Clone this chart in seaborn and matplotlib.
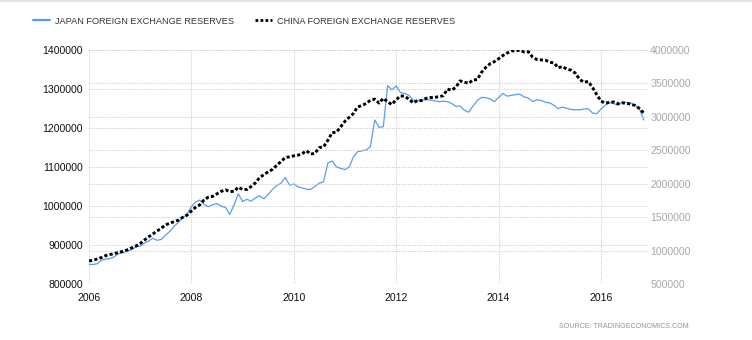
import matplotlib
matplotlib.use("Agg")
import matplotlib.pyplot as plt
from matplotlib.lines import Line2D
import pandas as pd
import seaborn as sns

# ---------------- data (monthly, Jan 2006 - Nov 2016, USD million) ----------------
japan = [
    850000, 850000, 852000, 861000, 864000, 865000, 870000, 878000, 880000, 884000, 888000, 895000,
    897000, 905000, 910000, 917000, 912000, 914000, 925000, 935000, 948000, 958000, 970000, 978000,
    998000, 1010000, 1015000, 1004000, 998000, 1003000, 1006000, 999000, 996000, 978000, 1003000, 1031000,
    1011000, 1017000, 1012000, 1020000, 1026000, 1018000, 1029000, 1042000, 1052000, 1058000, 1073000, 1053000,
    1056000, 1049000, 1046000, 1043000, 1042000, 1050000, 1058000, 1062000, 1110000, 1115000, 1100000, 1096000,
    1093000, 1100000, 1125000, 1139000, 1141000, 1143000, 1152000, 1220000, 1201000, 1203000, 1308000, 1297000,
    1307000, 1290000, 1288000, 1283000, 1271000, 1270000, 1272000, 1272000, 1271000, 1269000, 1267000, 1268000,
    1267000, 1262000, 1255000, 1256000, 1245000, 1240000, 1255000, 1270000, 1278000, 1277000, 1274000, 1267000,
    1278000, 1288000, 1281000, 1283000, 1285000, 1286000, 1279000, 1276000, 1267000, 1272000, 1270000, 1265000,
    1264000, 1257000, 1249000, 1253000, 1250000, 1247000, 1246000, 1246000, 1248000, 1249000, 1238000, 1236000,
    1248000, 1258000, 1265000, 1262000, 1258000, 1266000, 1265000, 1263000, 1257000, 1248000, 1220000,
]
china = [
    845000, 854000, 875000, 895000, 925000, 941000, 954000, 972000, 988000, 1010000, 1039000, 1066000,
    1105000, 1158000, 1202000, 1246000, 1292000, 1333000, 1385000, 1409000, 1434000, 1455000, 1497000, 1528000,
    1590000, 1647000, 1682000, 1757000, 1797000, 1809000, 1845000, 1884000, 1906000, 1880000, 1885000, 1946000,
    1913000, 1912000, 1954000, 2009000, 2089000, 2132000, 2175000, 2211000, 2273000, 2328000, 2389000, 2399000,
    2415000, 2425000, 2447000, 2491000, 2440000, 2454000, 2538000, 2548000, 2648000, 2760000, 2768000, 2847000,
    2932000, 2991000, 3045000, 3145000, 3166000, 3197000, 3245000, 3262000, 3202000, 3274000, 3221000, 3181000,
    3254000, 3310000, 3305000, 3260000, 3206000, 3240000, 3240000, 3273000, 3285000, 3287000, 3298000, 3312000,
    3410000, 3395000, 3440000, 3534000, 3515000, 3497000, 3548000, 3553000, 3663000, 3736000, 3790000, 3821000,
    3866000, 3914000, 3948000, 3981000, 3984000, 3993000, 3966000, 3969000, 3887000, 3853000, 3847000, 3843000,
    3813000, 3801000, 3730000, 3748000, 3711000, 3694000, 3651000, 3557000, 3514000, 3526000, 3438000, 3330000,
    3231000, 3202000, 3213000, 3220000, 3192000, 3205000, 3201000, 3185000, 3166000, 3121000, 3052000,
]
dates = pd.date_range("2006-01-01", periods=len(japan), freq="MS")

left_ticks = [800000, 900000, 1000000, 1100000, 1200000, 1300000, 1400000]
right_ticks = [500000, 1000000, 1500000, 2000000, 2500000, 3000000, 3500000, 4000000]
year_ticks = ["2006", "2008", "2010", "2012", "2014", "2016"]

japan_label = "JAPAN FOREIGN EXCHANGE RESERVES"
china_label = "CHINA FOREIGN EXCHANGE RESERVES"
source_text = "SOURCE: TRADINGECONOMICS.COM"

df = pd.DataFrame({"date": dates, "japan": japan, "china": china})

# ---------------- style ----------------
sns.set_style("white")
plt.rcParams["font.family"] = ["Liberation Sans", "DejaVu Sans"]

BLUE = "#5b9bef"
GRID = "#cccccc"

fig = plt.figure(figsize=(7.52, 3.40), dpi=100)
ax = fig.add_axes([89 / 752, 1 - 284 / 340, (648 - 89) / 752, (284 - 49.7) / 340])
ax2 = ax.twinx()

sns.lineplot(data=df, x="date", y="japan", ax=ax, color=BLUE, linewidth=0.9)
sns.lineplot(data=df, x="date", y="china", ax=ax2, color="black", linewidth=2.1,
             linestyle=(0, (1.1, 0.75)))

ax.set_xlim(pd.Timestamp("2006-01-01"), pd.Timestamp("2016-12-01"))
ax.set_ylim(left_ticks[0], left_ticks[-1])
ax2.set_ylim(right_ticks[0], right_ticks[-1])

ax.set_xticks([pd.Timestamp(f"{y}-01-01") for y in year_ticks])
ax.set_xticklabels(year_ticks)
ax.set_yticks(left_ticks)
ax.set_yticklabels([str(v) for v in left_ticks])
ax2.set_yticks(right_ticks)
ax2.set_yticklabels([str(v) for v in right_ticks])

for a in (ax, ax2):
    a.set_xlabel("")
    a.set_ylabel("")
    for s in a.spines.values():
        s.set_visible(False)

ax.grid(True, axis="both", linestyle=(0, (1, 1.2)), color=GRID, linewidth=0.75)
ax2.grid(True, axis="y", linestyle=(0, (1, 1.2)), color=GRID, linewidth=0.75)
ax2.grid(False, axis="x")

ax.tick_params(axis="y", length=0, pad=4.3, labelsize=7.6, labelcolor="#111111")
ax.tick_params(axis="x", length=0, pad=6.5, labelsize=7.6, labelcolor="#111111")
ax2.tick_params(axis="y", length=0, pad=1.5, labelsize=7.6, labelcolor="#a8a8a8")

# legend
handles = [Line2D([], [], color=BLUE, linewidth=1.6),
           Line2D([], [], color="black", linewidth=2.0, linestyle=(0, (1.0, 0.8)))]
fig.legend(handles, [japan_label, china_label], loc="center left",
           bbox_to_anchor=(33 / 752, 1 - 21 / 340), ncol=2, frameon=False,
           fontsize=6.6, handlelength=1.85, handletextpad=0.55, columnspacing=2.3,
           borderpad=0, borderaxespad=0, labelcolor="#333333")

fig.text(689 / 752, 1 - 326 / 340, source_text, ha="right", va="center",
         fontsize=5.1, color="#8595a8")

fig.add_artist(Line2D([0, 1], [0.998, 0.998], transform=fig.transFigure,
                      color="#dddddd", linewidth=1.2))

fig.savefig("out.png", dpi=100)
